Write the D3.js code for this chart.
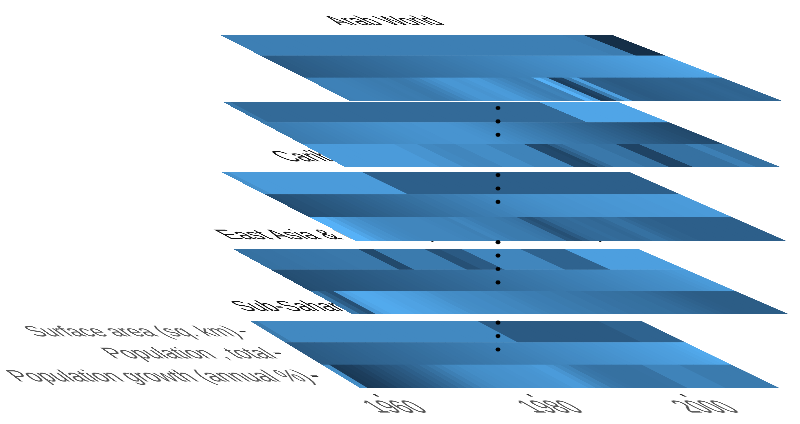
<!DOCTYPE html>
<html><head><meta charset="utf-8">
<script src="https://cdn.jsdelivr.net/npm/d3@7"></script>
<style>
html,body{margin:0;padding:0;background:#fff;width:800px;height:424px;overflow:hidden}
#stage{position:relative;width:800px;height:424px;overflow:hidden}
svg{position:absolute;left:0;top:0;overflow:visible}
text{font-family:"Liberation Sans",Arial,sans-serif}
</style></head><body><div id="stage"></div>
<script>
const indicators = ["Surface area (sq. km)", "Population , total", "Population growth (annual %)"];
const years = d3.range(1960, 2015);
const yearTicks = [1960, 1980, 2000];
const regionNames = ["Arab World", "", "Caribbean small states", "East Asia & Pacific (all income levels)", "Sub-Saharan Africa (all income levels)"];

const arabSurface = [.65,.65,.65,.65,.65,.65,.65,.65,.65,.65,.65,.65,.65,.65,.65,.65,.65,.65,.65,.65,.65,.65,.65,.65,.65,.65,.65,.65,.65,.65,.65,.65,.65,.65,.65,.65,.65,.65,.65,.65,.65,.65,.65,.65,.65,.65,.65,.65,.63,.63,.63,.03,.03,.03,.03];
const arabTotal = [.38,.39,.40,.41,.42,.43,.44,.45,.46,.47,.48,.49,.50,.51,.52,.53,.54,.55,.56,.57,.58,.59,.60,.61,.62,.63,.64,.65,.66,.67,.68,.69,.70,.71,.72,.73,.74,.75,.76,.77,.78,.79,.80,.81,.82,.83,.84,.85,.86,.87,.88,.89,.90,.91,.93];
const arabGrowth = [.66,.67,.67,.67,.66,.65,.64,.63,.62,.63,.62,.60,.61,.64,.68,.74,.78,.82,.82,.80,.82,.85,.84,.78,.74,.70,.66,.64,.68,.66,1,.85,.15,.2,.62,.88,.42,.42,.40,.38,.39,.40,.41,.42,.43,.44,.45,.44,.45,.46,.47,.46,.45,.46,.47];

const secondSurface = [.6,.5,.5,.5,.5,.5,.5,.5,.5,.5,.5,.5,.5,.5,.5,.5,.5,.5,.5,.5,.5,.5,.5,.5,.5,.5,.5,.5,.5,.5,.5,.5,.5,.5,.5,.5,.5,.5,.5,.5,.5,.5,.5,.5,.92,.92,.92,.92,.92,.92,.92,.92,.92,.92,.92];
const secondTotal = [.62,.63,.64,.65,.66,.67,.68,.69,.70,.71,.72,.73,.74,.75,.76,.77,.78,.78,.79,.79,.80,.80,.80,.80,.80,.79,.78,.76,.74,.72,.70,.68,.66,.64,.62,.60,.58,.56,.54,.52,.50,.48,.46,.44,.42,.40,.38,.36,.34,.32,.30,.29,.27,.26,.25];
const secondGrowth = [.85,.85,.85,.85,.85,.85,.85,.85,.85,.85,.85,.85,.80,.80,.80,.72,.72,.70,.70,.70,.75,.75,.75,.75,.68,.68,.68,.68,.68,.25,.25,.22,.4,.5,.6,.6,.6,.6,.55,.55,.55,.2,.2,.2,.55,.55,.55,.55,.55,.55,.65,.65,.55,.55,.55];

const caribSurface = [.78,.85,.85,.85,.85,.85,.85,.85,.85,.85,.85,.85,.85,.85,.85,.85,.85,.85,.85,.42,.42,.42,.42,.42,.42,.42,.42,.42,.42,.42,.42,.42,.42,.42,.42,.42,.42,.42,.42,.42,.42,.42,.42,.42,.42,.42,.42,.42,.42,.42,.42,.42,.42,.42,.42];
const caribTotal = [.28,.30,.31,.33,.34,.36,.37,.39,.40,.42,.43,.45,.46,.48,.49,.51,.52,.54,.55,.57,.58,.60,.61,.63,.64,.66,.67,.69,.70,.72,.73,.74,.75,.76,.77,.78,.78,.79,.79,.80,.80,.81,.81,.82,.82,.82,.83,.83,.83,.84,.84,.84,.85,.85,.85];
const caribGrowth = [1,1,.92,.85,.80,.78,.74,.72,.71,.70,.70,.70,.70,.70,.69,.68,.68,.66,.70,.68,.64,.62,.62,.62,.60,.58,.56,.35,.30,.38,.48,.5,.5,.52,.5,.5,.48,.5,.55,.55,.5,.46,.44,.44,.42,.42,.42,.42,.42,.42,.42,.42,.42,.42,.42];

const eastSurface = [.55,.55,.56,.56,.56,.57,.57,.58,.58,.58,.59,.59,.60,.60,.60,.60,.60,.25,.25,.62,.62,.62,.62,.62,.62,.62,.30,.30,.38,.38,.38,.70,.70,.70,.70,.70,.70,.70,.70,.45,.45,.45,.45,.45,.45,.88,.88,.88,.88,.88,.88,.88,.88,.88,.88];
const eastTotal = [.28,.29,.30,.31,.32,.33,.34,.35,.36,.37,.38,.39,.40,.41,.42,.43,.44,.45,.46,.47,.48,.49,.50,.51,.52,.53,.54,.55,.56,.57,.58,.59,.60,.61,.62,.63,.64,.65,.66,.67,.68,.69,.70,.71,.72,.73,.74,.75,.76,.77,.78,.80,.82,.84,.85];
const eastGrowth = [.6,.4,.3,.85,.92,.95,.95,.94,.92,.90,.90,.88,.86,.84,.82,.78,.76,.75,.74,.74,.72,.72,.70,.70,.68,.66,.65,.64,.64,.62,.62,.60,.60,.58,.58,.56,.56,.55,.55,.54,.54,.52,.52,.50,.48,.46,.44,.42,.41,.40,.40,.40,.40,.40,.40];

const subSurface = [.62,.72,.72,.72,.72,.72,.72,.72,.72,.72,.72,.72,.72,.72,.72,.72,.72,.72,.72,.72,.72,.72,.72,.72,.72,.72,.72,.72,.72,.72,.72,.72,.38,.38,.38,.38,.38,.38,.38,.38,.38,.38,.38,.38,.38,.38,.38,.38,.38,.45,.45,.45,.45,.45,.45];
const subTotal = [.38,.39,.40,.41,.42,.43,.44,.45,.46,.47,.48,.49,.50,.51,.52,.53,.54,.55,.56,.57,.58,.59,.60,.61,.62,.63,.64,.65,.66,.67,.68,.69,.70,.71,.72,.73,.74,.75,.76,.77,.78,.79,.80,.81,.82,.83,.84,.85,.86,.87,.88,.89,.91,.93,.95];
const subGrowth = [.75,.12,.14,.16,.20,.25,.28,.32,.35,.38,.42,.46,.50,.55,.60,.65,.70,.72,.75,.76,.77,.78,.78,.79,.80,.80,.81,.82,.85,.85,.80,.72,.68,.60,.58,.56,.55,.55,.55,.55,.55,.56,.56,.68,.68,.68,.68,.68,.62,.62,.62,.62,.62,.62,.62];

const panelValues = [
  [arabSurface, arabTotal, arabGrowth],
  [secondSurface, secondTotal, secondGrowth],
  [caribSurface, caribTotal, caribGrowth],
  [eastSurface, eastTotal, eastGrowth],
  [subSurface, subTotal, subGrowth]
];
const dotSteps = [0,1,2,5,6,7,10,11,12,13,16,17,18];

// Screen corners of each tilted panel: TL, TR, BR, BL
const corners = [
  [[220,35],[612,35],[782,101],[350,101]],
  [[223,102],[618,102],[780,167],[345,167]],
  [[221,172],[629,172],[786,241],[356,241]],
  [[233,249],[638,249],[788,314],[352,314]],
  [[250,321],[641,321],[779,388],[360,388]]
];
const W = 400, H = 110;

function matrixFor(q){
  const [[x0,y0],[x1,y1],[x2,y2],[x3,y3]] = q;
  const sx=x0-x1+x2-x3, sy=y0-y1+y2-y3, dx1=x1-x2, dx2=x3-x2, dy1=y1-y2, dy2=y3-y2;
  const den=dx1*dy2-dx2*dy1;
  const g=(sx*dy2-dx2*sy)/den, h=(dx1*sy-sx*dy1)/den;
  const a=x1-x0+g*x1, b=x3-x0+h*x3, d=y1-y0+g*y1, e=y3-y0+h*y3;
  return `matrix3d(${a/W},${d/W},0,${g/W},${b/H},${e/H},0,${h/H},0,0,1,0,${x0},${y0},0,1)`;
}

const color = d3.scaleLinear().domain([0,1]).range(["#132B43","#56B1F7"]).interpolate(d3.interpolateLab);
const x = d3.scaleBand().domain(years).range([0,W]);
const y = d3.scaleBand().domain(indicators).range([0,H]);
const stage = d3.select("#stage");
const tall = 1.18;

// bottom panel first so upper panels cover the titles beneath them
d3.range(panelValues.length - 1, -1, -1).forEach(p => {
  const svg = stage.append("svg").attr("width",W).attr("height",H)
    .style("transform-origin","0 0").style("transform",matrixFor(corners[p]));
  panelValues[p].forEach((row,r) => {
    svg.append("g").selectAll("rect").data(row).join("rect")
      .attr("x",(d,i)=>x(years[i])).attr("y",y(indicators[r]))
      .attr("width",x.bandwidth()+0.4).attr("height",y.bandwidth()+0.2)
      .attr("fill",d=>color(d));
  });
  if (regionNames[p]) svg.append("text").attr("text-anchor","middle")
    .attr("transform",`translate(${W/2},-18) scale(1,${tall})`)
    .attr("font-size",22.3).attr("fill","#111").text(regionNames[p]);
  if (p === panelValues.length - 1) {
    const ay = svg.append("g").attr("transform","translate(-22,0)")
      .call(d3.axisLeft(y).tickSize(6).tickPadding(4));
    const ax = svg.append("g").attr("transform",`translate(0,${H+9})`)
      .call(d3.axisBottom(x).tickValues(yearTicks).tickSize(4).tickPadding(4));
    [ay,ax].forEach(g=>{
      g.select(".domain").remove();
      g.selectAll("text").attr("font-size",21.8).attr("font-family","'Liberation Sans',Arial,sans-serif").attr("fill","#555")
        .attr("transform",`scale(1,${tall})`);
      g.selectAll("line").attr("stroke","#333").attr("stroke-width",2.4);
    });
  }
});

const dotY = d3.scaleLinear().domain([0,18]).range([108,349.5]);
stage.append("svg").attr("width",800).attr("height",424)
  .selectAll("ellipse").data(dotSteps).join("ellipse")
  .attr("cx",498).attr("cy",d=>dotY(d)).attr("rx",2.4).attr("ry",2.1).attr("fill","#000");
</script></body></html>
